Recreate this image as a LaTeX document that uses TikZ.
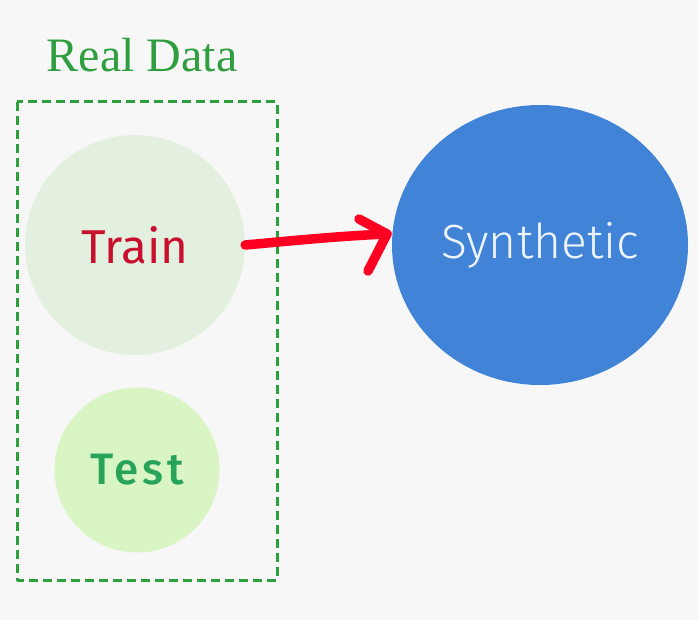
\documentclass[tikz,border=0pt]{standalone}
\usepackage{fontspec}
\setmainfont{Liberation Serif}
\newfontfamily\techfont{Fira Sans}
\newfontfamily\techlight{Fira Sans Light}
\newfontfamily\techmedium{Fira Sans Medium}
\usetikzlibrary{shapes.geometric}

\definecolor{fondgris}{HTML}{F7F7F7}
\definecolor{vertreel}{HTML}{2E9E3E}
\definecolor{vertcadre}{HTML}{2CA03C}
\definecolor{fondtrain}{HTML}{E4F0DF}
\definecolor{fondtest}{HTML}{D9F5C3}
\definecolor{textetrain}{HTML}{C8102E}
\definecolor{textetest}{HTML}{27A35A}
\definecolor{bleusynth}{HTML}{4183D7}
\definecolor{textesynth}{HTML}{EEF4FB}
\definecolor{rougefleche}{HTML}{FF0022}

\begin{document}
\begin{tikzpicture}[x=1pt, y=-1pt, line cap=round, line join=round,
    jeu/.style={circle, inner sep=0pt},
    trait/.style={rougefleche, line width=9.5pt}]

  % Fond et cadre de l'image.
  \fill[fondgris] (0,0) rectangle (698,620);
  \useasboundingbox (0,0) rectangle (698,620);

  % Les données réelles, dans le cadre en tirets.
  \node[font=\fontsize{48}{48}\selectfont, text=vertreel] (titre) at (142,55) {Real Data};
  \draw[vertcadre, line width=3pt, line cap=butt, dash pattern=on 9pt off 5pt]
       (17,102) rectangle (277,580);

  \node[jeu, fill=fondtrain, minimum size=220pt, text=textetrain,
        font=\techfont\fontsize{47.5}{47.5}\selectfont] (train) at (135,245) {Train};
  \node[jeu, fill=fondtest, minimum size=165pt, text=textetest,
        font=\techmedium\fontsize{44}{44}\selectfont\addfontfeature{LetterSpace=8}] (test) at (137,470) {Test};

  % Les données synthétiques.
  \node[ellipse, inner sep=0pt, fill=bleusynth, minimum width=296pt, minimum height=280pt,
        text=textesynth, font=\techlight\fontsize{48}{48}\selectfont] (synth) at (540,245) {Synthetic};

  % Flèche tracée à main levée.
  \coordinate (pointe) at (387,234);
  \coordinate (haut) at (359,219);
  \coordinate (bas) at (368,271);
  \draw[trait] (train.east) .. controls (300,240) and (340,236) .. (pointe);
  \draw[trait] (haut) -- (pointe) -- (bas);

\end{tikzpicture}
\end{document}
